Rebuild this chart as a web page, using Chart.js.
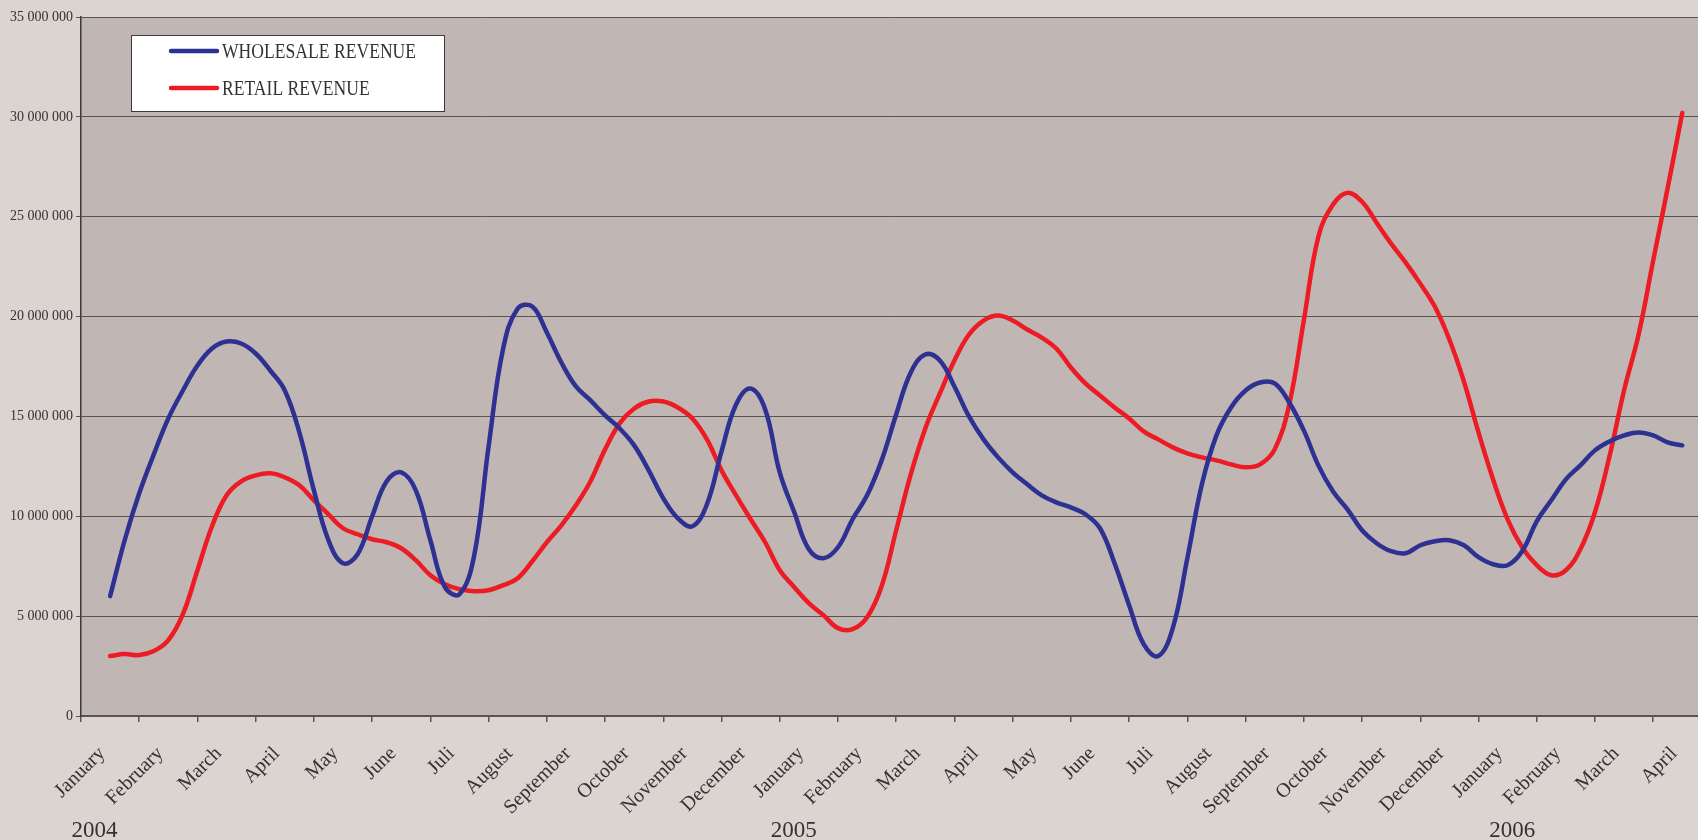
<!DOCTYPE html>
<html>
<head>
<meta charset="utf-8">
<title>Wholesale and retail revenue</title>
<script src="https://cdn.jsdelivr.net/npm/chart.js@4.4.1/dist/chart.umd.min.js"></script>
<style>
  html, body { margin: 0; padding: 0; background: #dbd4d1; }
  #wrap { width: 1698px; height: 840px; }
  canvas { display: block; }
</style>
</head>
<body>
<div id="wrap"><canvas id="chart" width="1698" height="840"></canvas></div>
<script>
// Month names along the category axis (Jan 2004 .. Apr 2006)
const monthLabels = [
  'January', 'February', 'March', 'April', 'May', 'June', 'Juli', 'August',
  'September', 'October', 'November', 'December',
  'January', 'February', 'March', 'April', 'May', 'June', 'Juli', 'August',
  'September', 'October', 'November', 'December',
  'January', 'February', 'March', 'April'
];

// Year captions under the month labels
const yearLabels = ['2004', '2005', '2006'];

// Revenue in millions, four readings per month (weekly-ish), starting January 2004
const samplesPerMonth = 4;

const wholesaleRevenue = [
  6.0, 8.8, 11.15, 13.1,
  14.9, 16.3, 17.55, 18.4,
  18.75, 18.65, 18.15, 17.3,
  16.3, 14.2, 11.3, 8.8,
  7.65, 8.1, 10.0, 11.75,
  12.2, 11.3, 8.8, 6.45,
  6.1, 8.0, 13.5, 18.4,
  20.4, 20.5, 19.2, 17.7,
  16.5, 15.8, 15.05, 14.4,
  13.55, 12.3, 10.9, 9.9,
  9.5, 10.6, 13.25, 15.6,
  16.4, 15.35, 12.2, 10.2,
  8.35, 7.9, 8.45, 9.85,
  11.05, 12.8, 15.1, 17.2,
  18.1, 17.8, 16.5, 15.0,
  13.85, 12.95, 12.2, 11.6,
  11.05, 10.7, 10.45, 10.1,
  9.4, 7.65, 5.55, 3.6,
  3.0, 4.4, 7.9, 11.6,
  14.05, 15.45, 16.3, 16.7,
  16.65, 15.7, 14.3, 12.55,
  11.25, 10.35, 9.3, 8.65,
  8.25, 8.15, 8.55, 8.75,
  8.8, 8.55, 7.95, 7.6,
  7.55, 8.25, 9.75, 10.8,
  11.85, 12.55, 13.3, 13.75,
  14.05, 14.2, 14.05, 13.7,
  13.55
];

const retailRevenue = [
  3.0, 3.1, 3.05, 3.25,
  3.8, 5.1, 7.3, 9.5,
  11.05, 11.75, 12.05, 12.15,
  11.95, 11.55, 10.8, 10.1,
  9.4, 9.1, 8.85, 8.7,
  8.4, 7.8, 7.05, 6.6,
  6.35, 6.25, 6.3, 6.55,
  6.9, 7.75, 8.7, 9.55,
  10.55, 11.75, 13.35, 14.65,
  15.4, 15.75, 15.75, 15.45,
  14.9, 13.85, 12.3, 11.05,
  9.85, 8.7, 7.3, 6.45,
  5.65, 5.05, 4.4, 4.35,
  4.95, 6.5, 9.3, 12.1,
  14.4, 16.15, 17.8, 19.1,
  19.8, 20.05, 19.8, 19.35,
  18.95, 18.4, 17.45, 16.65,
  16.05, 15.45, 14.9, 14.25,
  13.85, 13.45, 13.15, 12.95,
  12.8, 12.6, 12.45, 12.6,
  13.35, 15.6, 19.8, 24.0,
  25.6, 26.2, 25.75, 24.7,
  23.65, 22.7, 21.65, 20.5,
  18.85, 16.75, 14.2, 11.85,
  9.85, 8.45, 7.55, 7.05,
  7.3, 8.35, 10.2, 13.0,
  16.3, 19.1, 22.8, 26.45,
  30.2
];

const SERIF = '"Liberation Serif", "Times New Roman", serif';
const TEXT = '#333333';

function toPoints(values) {
  return values.map((v, i) => ({ x: i / samplesPerMonth, y: v }));
}

function spaced(n) {
  return String(Math.round(n)).replace(/\B(?=(\d{3})+(?!\d))/g, ' ');
}

// Plot and page backgrounds
const backdrop = {
  id: 'backdrop',
  beforeDraw(chart) {
    const { ctx, chartArea: a, width, height } = chart;
    ctx.save();
    ctx.fillStyle = '#dbd4d1';
    ctx.fillRect(0, 0, width, height);
    ctx.fillStyle = '#c0b7b5';
    ctx.fillRect(a.left, a.top, a.right - a.left, a.bottom - a.top);
    ctx.restore();
  }
};

// Boxed legend in the upper left of the plot, with narrow-set lettering
const boxedLegend = {
  id: 'boxedLegend',
  afterDraw(chart, args, opts) {
    const { ctx } = chart;
    const b = opts.box;
    ctx.save();
    ctx.fillStyle = '#ffffff';
    ctx.fillRect(b.x, b.y, b.w, b.h);
    ctx.strokeStyle = '#3a3a3a';
    ctx.lineWidth = 1;
    ctx.strokeRect(b.x + 0.5, b.y + 0.5, b.w, b.h);
    chart.data.datasets.forEach((ds, i) => {
      const y = b.y + opts.firstRow + i * opts.rowGap;
      ctx.strokeStyle = ds.borderColor;
      ctx.lineWidth = 4.5;
      ctx.lineCap = 'round';
      ctx.beginPath();
      ctx.moveTo(b.x + opts.lineStart, y);
      ctx.lineTo(b.x + opts.lineStart + opts.lineLen, y);
      ctx.stroke();
      ctx.save();
      ctx.translate(b.x + opts.textStart, y + 1);
      ctx.scale(opts.squeeze, 1);
      ctx.fillStyle = TEXT;
      ctx.font = opts.font;
      ctx.textAlign = 'left';
      ctx.textBaseline = 'middle';
      ctx.fillText(ds.label, 0, 0);
      ctx.restore();
    });
    ctx.restore();
  }
};

// Year captions beneath the month labels
const yearCaptions = {
  id: 'yearCaptions',
  afterDraw(chart, args, opts) {
    const { ctx } = chart;
    const xs = chart.scales.x;
    ctx.save();
    ctx.fillStyle = TEXT;
    ctx.font = opts.font;
    ctx.textAlign = 'center';
    ctx.textBaseline = 'alphabetic';
    yearLabels.forEach((label, i) => {
      ctx.fillText(label, xs.getPixelForValue(opts.anchors[i]), opts.baseline);
    });
    ctx.restore();
  }
};

new Chart(document.getElementById('chart'), {
  type: 'line',
  data: {
    datasets: [
      {
        label: 'WHOLESALE REVENUE',
        data: toPoints(wholesaleRevenue),
        borderColor: '#2e3192',
        borderWidth: 4.5
      },
      {
        label: 'RETAIL REVENUE',
        data: toPoints(retailRevenue),
        borderColor: '#ed1c24',
        borderWidth: 4.5
      }
    ]
  },
  options: {
    responsive: false,
    animation: false,
    devicePixelRatio: 1,
    layout: { padding: { top: 17, right: 0, bottom: 0, left: 0 } },
    elements: {
      point: { radius: 0, hoverRadius: 0 },
      line: { tension: 0.4, borderCapStyle: 'round', borderJoinStyle: 'round', fill: false }
    },
    plugins: {
      legend: { display: false },
      tooltip: { enabled: false },
      boxedLegend: {
        box: { x: 131, y: 35, w: 313, h: 76 },
        firstRow: 16,
        rowGap: 37,
        lineStart: 40,
        lineLen: 46,
        textStart: 91,
        squeeze: 0.8,
        font: '22px ' + SERIF
      },
      yearCaptions: {
        anchors: [-0.27, 11.74, 24.08],
        baseline: 837,
        font: '23px ' + SERIF
      }
    },
    scales: {
      x: {
        type: 'linear',
        min: -0.5,
        max: 27.27,
        afterBuildTicks(scale) {
          scale.ticks = monthLabels.map((_, i) => ({ value: i }));
        },
        afterFit(scale) {
          scale.height = 124;
          scale.paddingLeft = 0;
          scale.paddingRight = 0;
        },
        ticks: {
          autoSkip: false,
          minRotation: 45,
          maxRotation: 45,
          padding: 20,
          labelOffset: -8,
          color: TEXT,
          font: { family: SERIF, size: 20 },
          callback: (value, index) => monthLabels[index]
        },
        grid: {
          display: true,
          drawOnChartArea: false,
          drawTicks: true,
          tickLength: 6,
          offset: true,
          color: '#5a5555',
          lineWidth: 1.5
        },
        border: { display: true, color: '#5a5555', width: 2 }
      },
      y: {
        min: 0,
        max: 35,
        afterFit(scale) {
          scale.width = 81;
        },
        ticks: {
          stepSize: 5,
          padding: 3,
          color: TEXT,
          font: { family: SERIF, size: 14 },
          callback: (value) => spaced(value * 1000000)
        },
        grid: {
          color: '#5a5353',
          lineWidth: 1,
          drawTicks: true,
          tickLength: 5
        },
        border: { display: true, color: '#3a3a3a', width: 1.5 }
      }
    }
  },
  plugins: [backdrop, boxedLegend, yearCaptions]
});
</script>
</body>
</html>
